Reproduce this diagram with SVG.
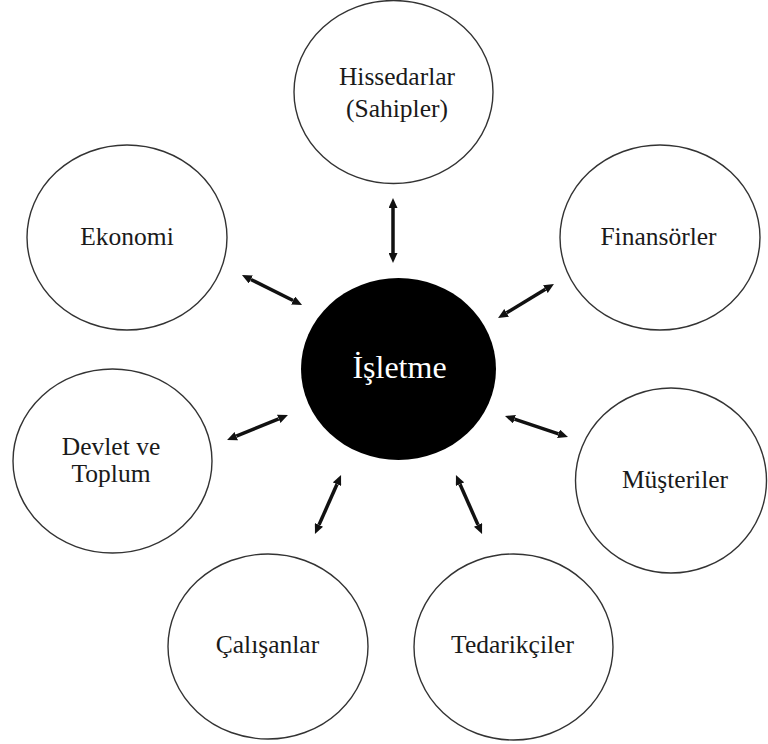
<svg xmlns="http://www.w3.org/2000/svg" width="768" height="744" viewBox="0 0 768 744">
  <style>
    .node { fill: #ffffff; stroke: #333333; stroke-width: 1.4; }
    .label { font-family: "Liberation Serif", "Times New Roman", serif; font-size: 25.5px; fill: #1a1a1a; text-anchor: middle; }
    .center-label { font-family: "Liberation Serif", "Times New Roman", serif; font-size: 32px; fill: #ffffff; text-anchor: middle; }
    .conn { stroke: #111111; stroke-width: 3.5; fill: none; marker-start: url(#head); marker-end: url(#head); }
  </style>
  <defs>
    <marker id="head" viewBox="0 0 10 9" refX="0" refY="4.5" markerWidth="10" markerHeight="9" markerUnits="userSpaceOnUse" orient="auto-start-reverse">
      <path d="M0,0 L10,4.5 L0,9 z" fill="#111111"/>
    </marker>
  </defs>
  <rect x="0" y="0" width="768" height="744" fill="#ffffff"/>

  <g id="hissedarlar">
    <ellipse class="node" cx="393.5" cy="92" rx="99.5" ry="91.5"/>
    <text class="label" x="397" y="85">Hissedarlar</text>
    <text class="label" x="397" y="117">(Sahipler)</text>
  </g>
  <g id="ekonomi">
    <ellipse class="node" cx="127" cy="237.5" rx="100" ry="92.5"/>
    <text class="label" x="127" y="245">Ekonomi</text>
  </g>
  <g id="finansorler">
    <ellipse class="node" cx="660" cy="237.5" rx="100" ry="92.5"/>
    <text class="label" x="658.5" y="245">Finansörler</text>
  </g>
  <g id="devlet">
    <ellipse class="node" cx="112.5" cy="461" rx="99.5" ry="92"/>
    <text class="label" x="111" y="455">Devlet ve</text>
    <text class="label" x="111" y="482">Toplum</text>
  </g>
  <g id="musteriler">
    <ellipse class="node" cx="671" cy="480.5" rx="95.5" ry="92.5"/>
    <text class="label" x="675" y="488">Müşteriler</text>
  </g>
  <g id="calisanlar">
    <ellipse class="node" cx="268" cy="646.5" rx="100" ry="92.5"/>
    <text class="label" x="267.5" y="653">Çalışanlar</text>
  </g>
  <g id="tedarikciler">
    <ellipse class="node" cx="513.5" cy="647" rx="99.5" ry="93"/>
    <text class="label" x="512.5" y="653">Tedarikçiler</text>
  </g>
  <g id="isletme">
    <ellipse cx="398.5" cy="369" rx="97.5" ry="91" fill="#000000"/>
    <text class="center-label" x="399.5" y="378">İşletme</text>
  </g>

  <g id="connectors">
    <line class="conn" x1="393" y1="208" x2="393" y2="253"/>
    <line class="conn" x1="250.9" y1="279.5" x2="293.1" y2="300.5"/>
    <line class="conn" x1="506.6" y1="312.8" x2="545.4" y2="289.2"/>
    <line class="conn" x1="236.3" y1="436.2" x2="278.7" y2="418.8"/>
    <line class="conn" x1="514.5" y1="419.2" x2="558.5" y2="433.8"/>
    <line class="conn" x1="337" y1="484.2" x2="319" y2="524.9"/>
    <line class="conn" x1="460" y1="484.2" x2="478" y2="524.9"/>
  </g>
</svg>
